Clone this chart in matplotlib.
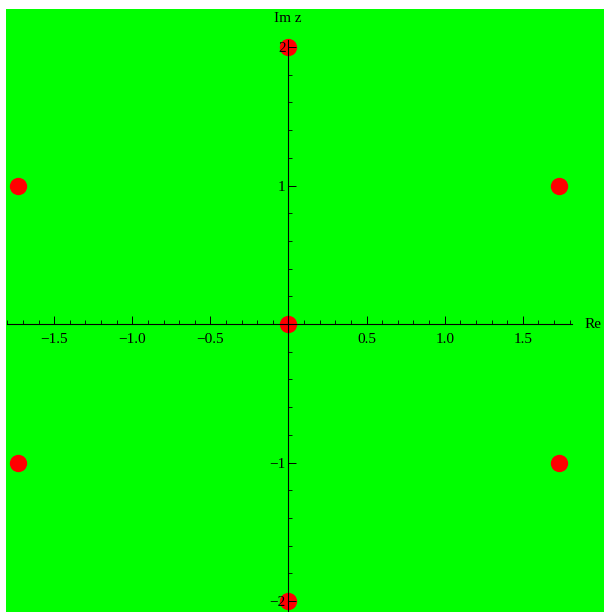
import matplotlib.pyplot as plt
import numpy as np
from matplotlib.patches import Rectangle
from matplotlib.ticker import MultipleLocator, FixedLocator

plt.rcParams['font.family'] = ['Liberation Serif', 'DejaVu Serif']

# centre point plus the six around it
re_vals = [0.0, np.sqrt(3), np.sqrt(3), 0.0, -np.sqrt(3), -np.sqrt(3), 0.0]
im_vals = [0.0, 1.0, -1.0, 2.0, 1.0, -1.0, -2.0]

x_ticks = [-1.5, -1.0, -0.5, 0.5, 1.0, 1.5]
y_ticks = [-2, -1, 1, 2]


def fmt(s):
    return s.replace('-', '\u2212')


fig = plt.figure(figsize=(6.04, 6.12), dpi=100)
fig.patch.set_facecolor('white')
fig.patches.append(Rectangle((6 / 604, 0), 1, 1 - 9 / 612, transform=fig.transFigure,
                             facecolor='#00ff00', edgecolor='none', zorder=-10))

ax = fig.add_axes([7 / 604, 0, 565 / 604, 572 / 612])
ax.patch.set_alpha(0)
ax.set_xlim(-1.802, 1.815)
ax.set_ylim(-2.079, 2.051)

ax.spines['left'].set_position(('data', 0))
ax.spines['bottom'].set_position(('data', 0))
ax.spines['right'].set_visible(False)
ax.spines['top'].set_visible(False)
for s in ['left', 'bottom']:
    ax.spines[s].set_linewidth(0.8)

ax.xaxis.set_major_locator(FixedLocator(x_ticks))
ax.xaxis.set_minor_locator(MultipleLocator(0.1))
ax.yaxis.set_major_locator(FixedLocator(y_ticks))
ax.yaxis.set_minor_locator(MultipleLocator(0.2))
ax.set_xticklabels([fmt('%.1f' % v) for v in x_ticks])
ax.set_yticklabels([fmt(str(v)) for v in y_ticks])
ax.tick_params(which='major', direction='in', length=6, width=0.7, labelsize=11)
ax.tick_params(which='minor', direction='in', length=3, width=0.6)
ax.tick_params(axis='x', pad=6.5)
ax.tick_params(axis='y', pad=2)

ax.plot(re_vals, im_vals, 'o', color='#ff0000', markersize=12.5, markeredgewidth=0,
        clip_on=False, zorder=1)

fig.text(585 / 604, 1 - 325 / 612, 'Re', fontsize=11, ha='left', va='center')
fig.text(288 / 604, 1 - 18 / 612, 'Im z', fontsize=11, ha='center', va='center')

fig.savefig('out.png', dpi=100)
